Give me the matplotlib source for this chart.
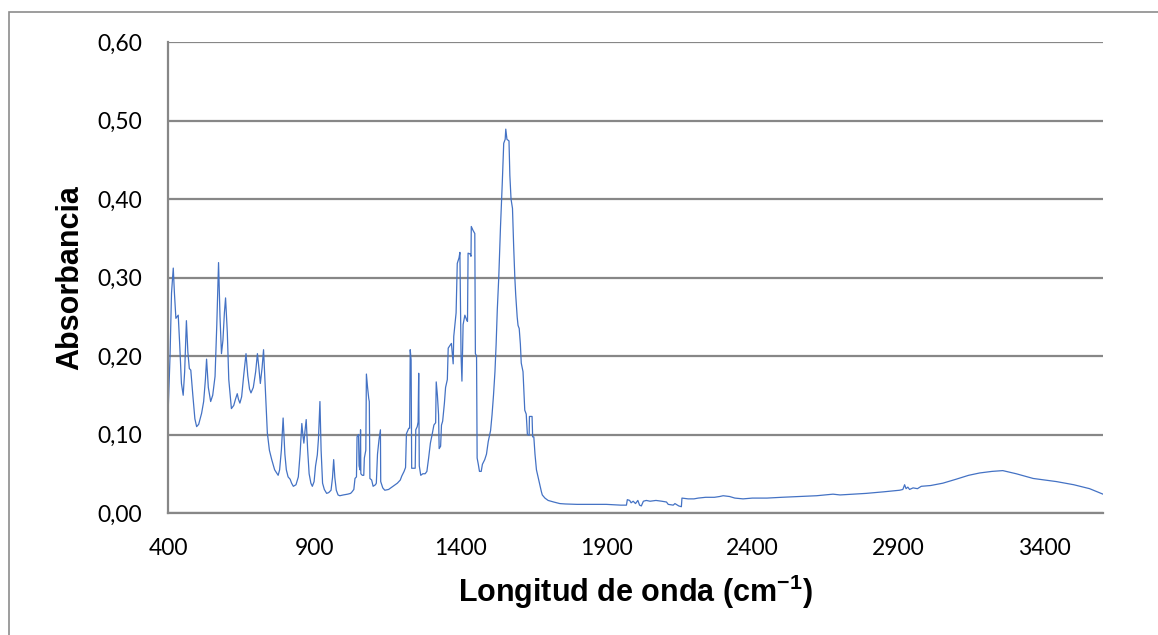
import matplotlib
matplotlib.use("Agg")
import matplotlib.pyplot as plt
from matplotlib.patches import Rectangle
from matplotlib.ticker import FixedLocator, FuncFormatter

# espectro IR (cm-1, absorbancia)
wavenumber = [
    400, 401, 407, 412, 418, 422, 427, 435, 440, 446, 452, 457, 463, 468, 473, 478,
    485, 492, 498, 505, 515, 522, 528, 532, 538, 546, 553, 561, 567, 573, 578, 583,
    588, 593, 597, 603, 608, 617, 625, 631, 637, 641, 646, 652, 659, 667, 673, 679,
    684, 692, 700, 706, 711, 716, 722, 727, 733, 740, 747, 755, 765, 777, 782, 788,
    794, 800, 805, 811, 818, 823, 829, 838, 846, 852, 858, 862, 865, 869, 873, 878,
    883, 889, 894, 900, 905, 911, 915, 920, 924, 929, 935, 943, 950, 958, 963, 967,
    971, 976, 982, 988, 1000, 1015, 1025, 1030, 1036, 1040, 1045, 1047, 1052, 1054,
    1057, 1059, 1060, 1065, 1070, 1072, 1077, 1079, 1083, 1087, 1089, 1091, 1097,
    1102, 1110, 1113, 1117, 1122, 1127, 1128, 1135, 1142, 1155, 1170, 1185, 1195,
    1200, 1208, 1213, 1216, 1224, 1227, 1229, 1232, 1234, 1246, 1248, 1253, 1256,
    1258, 1260, 1265, 1272, 1280, 1286, 1292, 1298, 1304, 1310, 1316, 1318, 1322,
    1326, 1328, 1333, 1336, 1340, 1346, 1350, 1356, 1359, 1366, 1370, 1376, 1378,
    1386, 1390, 1396, 1399, 1403, 1406, 1410, 1416, 1422, 1425, 1427, 1434, 1437,
    1438, 1444, 1450, 1452, 1456, 1458, 1462, 1466, 1472, 1476, 1484, 1490, 1496,
    1504, 1509, 1514, 1519, 1523, 1527, 1532, 1538, 1544, 1549, 1554, 1556, 1560,
    1567, 1570, 1574, 1579, 1583, 1587, 1590, 1595, 1598, 1602, 1606, 1609, 1615,
    1621, 1626, 1630, 1636, 1637, 1646, 1648, 1652, 1656, 1661, 1667, 1673, 1678,
    1681, 1690, 1701, 1720, 1741, 1760, 1800, 1850, 1900, 1950, 1969, 1972, 1980,
    1985, 1992, 2000, 2008, 2014, 2020, 2027, 2037, 2050, 2070, 2090, 2106, 2112,
    2129, 2135, 2148, 2157, 2159, 2180, 2200, 2215, 2240, 2270, 2288, 2300, 2322,
    2340, 2368, 2400, 2450, 2500, 2562, 2620, 2676, 2700, 2790, 2850, 2904, 2915,
    2921, 2926, 2932, 2938, 2950, 2965, 2978, 3010, 3052, 3097, 3140, 3178, 3220,
    3257, 3303, 3361, 3441, 3500, 3554, 3580, 3600,
]
absorbance = [
    0.000, 0.135, 0.200, 0.280, 0.312, 0.280, 0.248, 0.252, 0.215, 0.165, 0.150, 0.180,
    0.245, 0.205, 0.184, 0.182, 0.150, 0.120, 0.110, 0.113, 0.127, 0.142, 0.170, 0.196,
    0.160, 0.142, 0.150, 0.174, 0.240, 0.319, 0.250, 0.203, 0.220, 0.255, 0.274, 0.230,
    0.170, 0.133, 0.137, 0.145, 0.152, 0.145, 0.140, 0.148, 0.175, 0.203, 0.175, 0.158,
    0.153, 0.160, 0.180, 0.203, 0.185, 0.165, 0.185, 0.208, 0.160, 0.102, 0.080, 0.068,
    0.055, 0.048, 0.055, 0.080, 0.121, 0.075, 0.055, 0.046, 0.043, 0.038, 0.034, 0.036,
    0.046, 0.075, 0.114, 0.098, 0.089, 0.105, 0.119, 0.080, 0.050, 0.038, 0.034, 0.040,
    0.060, 0.074, 0.095, 0.142, 0.080, 0.038, 0.030, 0.025, 0.026, 0.029, 0.045, 0.068,
    0.045, 0.029, 0.023, 0.022, 0.023, 0.024, 0.025, 0.027, 0.030, 0.044, 0.046, 0.097,
    0.100, 0.060, 0.055, 0.106, 0.050, 0.048, 0.048, 0.070, 0.080, 0.177, 0.160, 0.146,
    0.142, 0.044, 0.042, 0.034, 0.036, 0.038, 0.075, 0.093, 0.106, 0.040, 0.032, 0.029,
    0.030, 0.034, 0.038, 0.042, 0.047, 0.053, 0.058, 0.101, 0.108, 0.108, 0.208, 0.195,
    0.057, 0.057, 0.106, 0.110, 0.116, 0.178, 0.060, 0.048, 0.050, 0.050, 0.053, 0.070,
    0.089, 0.100, 0.112, 0.115, 0.167, 0.150, 0.125, 0.082, 0.085, 0.112, 0.117, 0.140,
    0.160, 0.170, 0.210, 0.214, 0.216, 0.190, 0.225, 0.255, 0.318, 0.325, 0.332, 0.200,
    0.168, 0.240, 0.252, 0.246, 0.244, 0.331, 0.330, 0.327, 0.365, 0.360, 0.356, 0.203,
    0.200, 0.070, 0.062, 0.053, 0.053, 0.062, 0.068, 0.075, 0.091, 0.105, 0.125, 0.150,
    0.180, 0.215, 0.259, 0.300, 0.365, 0.420, 0.471, 0.476, 0.489, 0.476, 0.474, 0.430,
    0.400, 0.388, 0.340, 0.300, 0.278, 0.250, 0.239, 0.235, 0.215, 0.191, 0.180, 0.131,
    0.126, 0.100, 0.099, 0.123, 0.123, 0.097, 0.097, 0.075, 0.055, 0.045, 0.035, 0.027,
    0.023, 0.019, 0.016, 0.014, 0.012, 0.0115, 0.011, 0.011, 0.011, 0.010, 0.010, 0.017,
    0.016, 0.013, 0.015, 0.012, 0.016, 0.010, 0.009, 0.015, 0.016, 0.015, 0.016, 0.015,
    0.014, 0.011, 0.010, 0.012, 0.009, 0.008, 0.019, 0.018, 0.018, 0.019, 0.020, 0.020,
    0.021, 0.022, 0.021, 0.019, 0.018, 0.019, 0.019, 0.020, 0.021, 0.022, 0.024, 0.023,
    0.025, 0.027, 0.029, 0.030, 0.036, 0.031, 0.033, 0.030, 0.032, 0.031, 0.034, 0.035,
    0.038, 0.043, 0.048, 0.051, 0.053, 0.054, 0.050, 0.044, 0.040, 0.036, 0.031, 0.027,
    0.024,
]
x_ticks = [400, 900, 1400, 1900, 2400, 2900, 3400]
y_ticks = [0.0, 0.1, 0.2, 0.3, 0.4, 0.5, 0.6]

plt.rcParams["mathtext.fontset"] = "custom"
plt.rcParams["mathtext.rm"] = "Liberation Sans:bold"
plt.rcParams["mathtext.bf"] = "Liberation Sans:bold"

fig = plt.figure(figsize=(11.58, 6.35), dpi=100)
W, H = 1158, 635
ax = fig.add_axes([168 / W, 1 - 513 / H, (1103 - 168) / W, (513 - 42) / H])

# marco exterior del grafico (estilo Excel)
fig.patches.append(Rectangle((9 / W, -0.1), 1.2, 1 - 12 / H + 0.1,
                             transform=fig.transFigure, fill=False,
                             edgecolor="#8c8c8c", linewidth=1.2))

ax.plot(wavenumber, absorbance, color="#4472C4", linewidth=0.9)

ax.set_xlim(400, 3600)
ax.set_ylim(0, 0.6)
ax.xaxis.set_major_locator(FixedLocator(x_ticks))
ax.yaxis.set_major_locator(FixedLocator(y_ticks))
ax.yaxis.set_major_formatter(FuncFormatter(lambda v, p: f"{v:.2f}".replace(".", ",")))

ax.grid(axis="y", color="#878787", linewidth=1.6)
ax.set_axisbelow(True)
for side in ["top", "right"]:
    ax.spines[side].set_visible(False)
for side in ["left", "bottom"]:
    ax.spines[side].set_color("#878787")
    ax.spines[side].set_linewidth(1.6)

ax.tick_params(axis="both", length=0, labelsize=16.5)
ax.tick_params(axis="y", pad=18.5)
ax.tick_params(axis="x", pad=18)
for lab in ax.get_xticklabels() + ax.get_yticklabels():
    lab.set_family("Lato")

ax.set_xlabel(r"Longitud de onda (cm$^{-1}$)", fontsize=22, fontweight="bold",
              family="Liberation Sans", labelpad=10)
ax.set_ylabel("Absorbancia", fontsize=22, fontweight="bold",
              family="Liberation Sans", labelpad=9)

fig.savefig("out.png", dpi=100)
